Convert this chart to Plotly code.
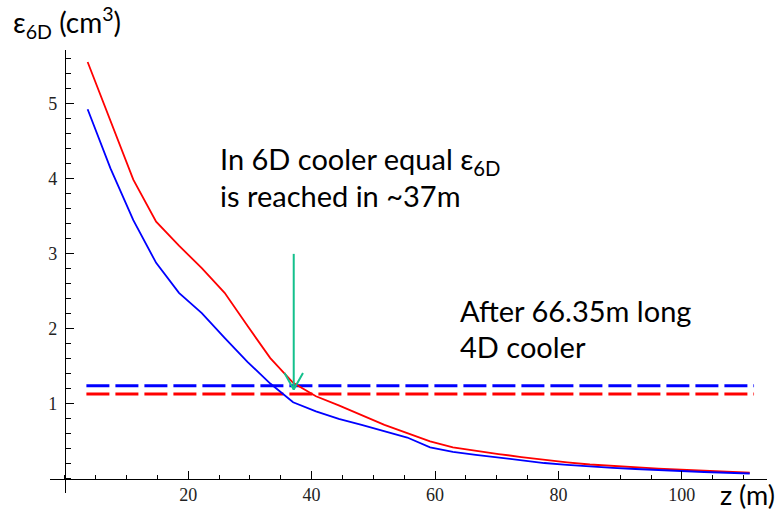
import plotly.graph_objects as go

# ---- data ----
z_m = [3.7, 7.4, 11.1, 14.8, 18.5, 22.2, 25.9, 29.6, 33.3, 37.0,
       40.7, 44.4, 48.1, 51.8, 55.5, 59.2, 62.9, 66.6, 70.3, 74.0,
       77.7, 81.4, 85.1, 88.8, 92.5, 96.2, 99.9, 103.6, 107.3, 111.0]
eps_red = [5.56, 4.78, 3.99, 3.43, 3.11, 2.81, 2.48, 2.04, 1.61, 1.28,
           1.10, 0.98, 0.85, 0.72, 0.61, 0.50, 0.42, 0.37, 0.33, 0.29,
           0.25, 0.22, 0.19, 0.17, 0.15, 0.135, 0.12, 0.105, 0.09, 0.08]
eps_blue = [4.93, 4.14, 3.45, 2.88, 2.48, 2.21, 1.88, 1.56, 1.27, 1.02,
            0.90, 0.80, 0.72, 0.64, 0.55, 0.42, 0.36, 0.32, 0.28, 0.245,
            0.21, 0.185, 0.16, 0.145, 0.13, 0.115, 0.10, 0.09, 0.08, 0.07]
level_z = [3.5, 111.7]
level_red = 1.13
level_blue = 1.24
arrow_z = 37.1
arrow_top = 3.0
arrow_tip = 1.19
arrow_arm_dz = 1.5
arrow_arm_dy = 0.22

x_ticks = [20, 40, 60, 80, 100]
y_ticks = [1, 2, 3, 4, 5]
x_range = [-2.4, 113.8]
y_range = [-0.19, 5.72]

GREEN = "#14C08C"
fig = go.Figure()
fig.add_trace(go.Scatter(x=level_z, y=[level_blue, level_blue], mode="lines",
                         line=dict(color="#0000FF", width=3, dash="23px,6px")))
fig.add_trace(go.Scatter(x=level_z, y=[level_red, level_red], mode="lines",
                         line=dict(color="#FF0000", width=3, dash="23px,6px")))
fig.add_trace(go.Scatter(x=z_m, y=eps_red, mode="lines",
                         line=dict(color="#FF0000", width=1.8)))
fig.add_trace(go.Scatter(x=z_m, y=eps_blue, mode="lines",
                         line=dict(color="#0000FF", width=1.8)))
# arrow
fig.add_trace(go.Scatter(x=[arrow_z, arrow_z], y=[arrow_top, arrow_tip], mode="lines",
                         line=dict(color=GREEN, width=2)))
fig.add_trace(go.Scatter(x=[arrow_z - arrow_arm_dz, arrow_z, arrow_z + arrow_arm_dz],
                         y=[arrow_tip + arrow_arm_dy, arrow_tip, arrow_tip + arrow_arm_dy],
                         mode="lines", line=dict(color=GREEN, width=2)))

tickfont = dict(family="Liberation Serif", size=18, color="#222")
fig.update_layout(
    width=781, height=511,
    margin=dict(l=50, r=14, t=50, b=18, autoexpand=False),
    plot_bgcolor="white", paper_bgcolor="white",
    showlegend=False,
    xaxis=dict(range=x_range, anchor="free", automargin=False,
               position=-y_range[0] / (y_range[1] - y_range[0]),
               showline=True, linecolor="black", linewidth=1,
               ticks="inside", ticklen=8, tickwidth=1, tickcolor="black",
               tickvals=x_ticks, showgrid=False, zeroline=False,
               minor=dict(ticks="inside", ticklen=4, dtick=5, tick0=0,
                          tickcolor="black", showgrid=False),
               tickfont=tickfont),
    yaxis=dict(range=y_range, anchor="free", automargin=False,
               position=-x_range[0] / (x_range[1] - x_range[0]),
               showline=True, linecolor="black", linewidth=1,
               ticks="inside", ticklen=8, tickwidth=1, tickcolor="black",
               tickvals=y_ticks, showgrid=False, zeroline=False,
               ticklabelstandoff=4,
               minor=dict(ticks="inside", ticklen=5, dtick=0.2, tick0=0,
                          tickcolor="black", showgrid=False),
               tickfont=tickfont),
)

txt = dict(family="Lato", size=29, color="black")
ann = [
    dict(text="In 6D cooler equal ε<sub>6D</sub>", x=24.9, y=4.25),
    dict(text="is reached in ~37m", x=24.9, y=3.78),
    dict(text="After 66.35m long", x=63.8, y=2.25),
    dict(text="4D cooler", x=63.8, y=1.76),
]
for a in ann:
    fig.add_annotation(text=a["text"], x=a["x"], y=a["y"], xref="x", yref="y",
                       xanchor="left", yanchor="middle", showarrow=False, font=txt)

fig.add_annotation(text="ε<sub>6D</sub> (cm<sup>3</sup>)", x=-0.055, y=1.062,
                   xref="paper", yref="paper", xanchor="left", yanchor="middle",
                   showarrow=False, font=dict(family="Lato", size=28, color="black"))
fig.add_annotation(text="z (m)", x=1.012, y=-0.003, xref="paper", yref="paper",
                   xanchor="right", yanchor="middle", showarrow=False, borderpad=0,
                   font=dict(family="Lato", size=27, color="black"))

fig.write_html("out.html")
